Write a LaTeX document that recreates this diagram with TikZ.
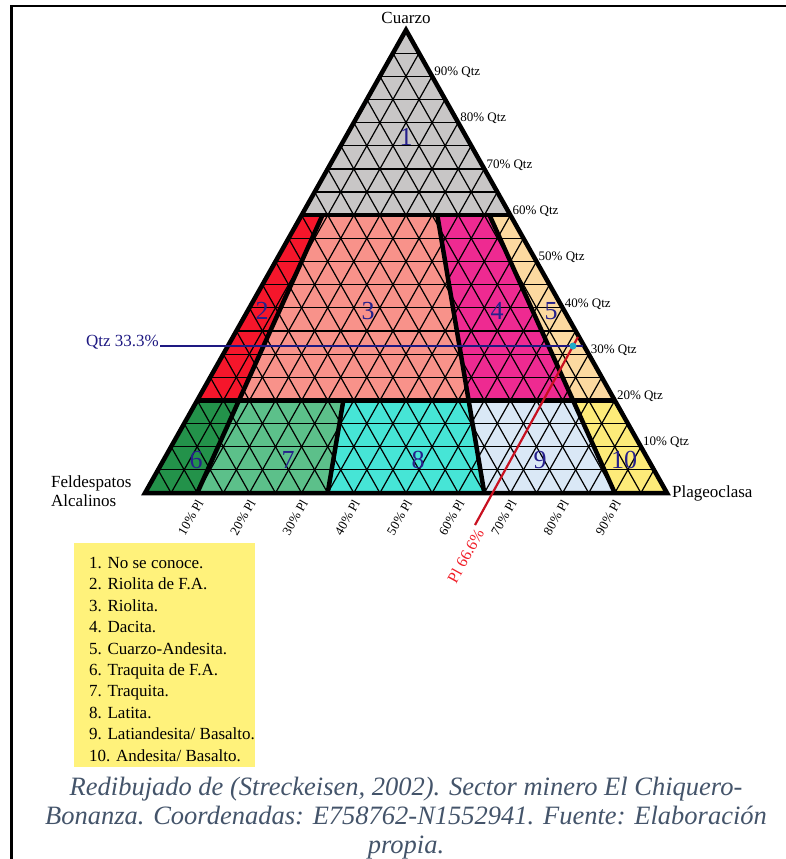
\documentclass[tikz,border=0pt]{standalone}
\usepackage{fontspec}
\setmainfont{Liberation Serif}[ItalicFont={Liberation Serif Italic}]
\usetikzlibrary{calc}
\definecolor{f1}{RGB}{200,198,198}
\definecolor{f2}{RGB}{245,22,43}
\definecolor{f3}{RGB}{248,146,138}
\definecolor{f4}{RGB}{238,42,145}
\definecolor{f5}{RGB}{252,217,160}
\definecolor{f6}{RGB}{35,146,74}
\definecolor{f7}{RGB}{92,192,138}
\definecolor{f8}{RGB}{70,229,214}
\definecolor{f9}{RGB}{218,232,246}
\definecolor{f10}{RGB}{253,235,121}
\definecolor{legyellow}{RGB}{255,242,123}
\definecolor{numblue}{RGB}{38,33,140}
\definecolor{lineblue}{RGB}{30,25,130}
\definecolor{redln}{RGB}{200,16,32}
\definecolor{redtxt}{RGB}{240,30,40}
\definecolor{dotcyan}{RGB}{30,170,200}
\definecolor{capgray}{RGB}{68,84,106}
\begin{document}
\begin{tikzpicture}[x=1pt,y=-1pt]
\useasboundingbox (0,0) rectangle (786,859);
\tikzset{
  gridline/.style={line width=1.2pt, black},
  bound/.style={line width=4.5pt, line join=miter, black},
  fieldnum/.style={text=numblue, font=\fontsize{26}{26}\selectfont, inner sep=0},
  qtzlab/.style={font=\fontsize{13}{15}\selectfont, anchor=west, inner sep=0},
  pllab/.style={font=\fontsize{13}{15}\selectfont, anchor=east, rotate=60, inner sep=0},
  vertex/.style={font=\fontsize{17}{19}\selectfont, inner sep=0},
}
% frame
\draw[line width=2.5pt] (786,6) -- (11.5,6) -- (11.5,859);
% corners and field points
\coordinate (Q) at (406,30);
\coordinate (A) at (145,493);
\coordinate (P) at (667,493);
\coordinate (a0) at (301.6,215.2);
\coordinate (a1) at (322.48,215.2);
\coordinate (a3) at (437.32,215.2);
\coordinate (a4) at (489.52,215.2);
\coordinate (a5) at (510.4,215.2);
\coordinate (b0) at (197.2,400.4);
\coordinate (b1) at (238.96,400.4);
\coordinate (b2) at (343.36,400.4);
\coordinate (b3) at (468.64,400.4);
\coordinate (b4) at (573.04,400.4);
\coordinate (b5) at (614.8,400.4);
\coordinate (c1) at (197.2,493);
\coordinate (c2) at (327.7,493);
\coordinate (c3) at (484.3,493);
\coordinate (c4) at (614.8,493);
% Pl labels (under the triangle)
\foreach \k in {1,...,9}{
  \node[pllab] (pl\k) at ({145+52.2*\k+3},501) {\k0\% Pl};
}
% fills
\fill[f1] (Q) -- (a0) -- (a5) -- cycle;
\fill[f2] (a0) -- (a1) -- (b1) -- (b0) -- cycle;
\fill[f3] (a1) -- (a3) -- (b3) -- (b1) -- cycle;
\fill[f4] (a3) -- (a4) -- (b4) -- (b3) -- cycle;
\fill[f5] (a4) -- (a5) -- (b5) -- (b4) -- cycle;
\fill[f6] (b0) -- (b1) -- (c1) -- (A) -- cycle;
\fill[f7] (b1) -- (b2) -- (c2) -- (c1) -- cycle;
\fill[f8] (b2) -- (b3) -- (c3) -- (c2) -- cycle;
\fill[f9] (b3) -- (b4) -- (c4) -- (c3) -- cycle;
\fill[f10] (b4) -- (b5) -- (P) -- (c4) -- cycle;
% grid
\foreach \i in {1,...,19}{
  \draw[gridline] ($(A)!\i/20!(Q)$) -- ($(P)!\i/20!(Q)$);
  \draw[gridline] ($(A)!\i/20!(P)$) -- ($(Q)!\i/20!(P)$);
  \draw[gridline] ($(P)!\i/20!(A)$) -- ($(Q)!\i/20!(A)$);
}
% boundaries
\draw[bound] (Q) -- (P) -- (A) -- cycle;
\draw[bound] (a0) -- (a5);
\draw[bound] (b0) -- (b5);
\draw[bound] (a1) -- (b1);
\draw[bound] (a3) -- (b3);
\draw[bound] (a4) -- (b4);
\draw[bound] (b1) -- (c1);
\draw[bound] (b2) -- (c2);
\draw[bound] (b3) -- (c3);
\draw[bound] (b4) -- (c4);
% field numbers
\node[fieldnum] (n1) at (406,137) {1};
\node[fieldnum] (n2) at (262,311) {2};
\node[fieldnum] (n3) at (368,311) {3};
\node[fieldnum] (n4) at (497,311) {4};
\node[fieldnum] (n5) at (551,311) {5};
\node[fieldnum] (n6) at (196,460) {6};
\node[fieldnum] (n7) at (288,460) {7};
\node[fieldnum] (n8) at (418,460) {8};
\node[fieldnum] (n9) at (540,460) {9};
\node[fieldnum] (n10) at (624,460) {10};
% Qtz labels
\foreach \k in {1,...,9}{
  \node[qtzlab] (qz\k) at ({667-26.1*\k+2},{493-46.3*\k-4}) {\k0\% Qtz};
}
% vertex labels
\node[vertex] (cuarzo) at (406,18) {Cuarzo};
\node[vertex, anchor=west] (plag) at (672,493) {Plageoclasa};
\node[vertex, anchor=west, align=left] (feld) at (51,491) {Feldespatos\\Alcalinos};
% Qtz 33.3% line
\node[font=\fontsize{17}{19}\selectfont, text=lineblue, anchor=base east, inner sep=1pt] (qtzlbl) at (160,346) {Qtz 33.3\%};
\coordinate (qend) at (583,346);
\draw[lineblue, line width=2pt] (qtzlbl.base east) -- (qend);
% Pl 66.6% line
\coordinate (plbot) at (475,525);
\coordinate (pltop) at (578,337);
\draw[redln, line width=2.2pt] (plbot) -- (pltop);
\node[font=\fontsize{16}{18}\selectfont, text=redtxt, anchor=east, rotate=61, inner sep=0] (pllbl) at (480,530) {Pl 66.6\%};
\node[circle, fill=dotcyan, minimum size=7pt, inner sep=0] (dot) at (573,346) {};
% legend
\node[fill=legyellow, anchor=north west, minimum width=181pt, minimum height=224pt, inner sep=0] (legbox) at (74,543) {};
\node[anchor=north west, align=left, inner sep=0, font=\fontsize{17}{21.4}\selectfont] (legtext) at (89,557) {1. No se conoce.\\2. Riolita de F.A.\\3. Riolita.\\4. Dacita.\\5. Cuarzo-Andesita.\\6. Traquita de F.A.\\7. Traquita.\\8. Latita.\\9. Latiandesita/ Basalto.\\10. Andesita/ Basalto.};
% caption
\node[font=\itshape\fontsize{26.5}{29}\selectfont, text=capgray, align=center, inner sep=0] (caption) at (406,818) {Redibujado de (Streckeisen, 2002). Sector minero El Chiquero-\\Bonanza. Coordenadas: E758762-N1552941. Fuente: Elaboración\\propia.};
\end{tikzpicture}
\end{document}
